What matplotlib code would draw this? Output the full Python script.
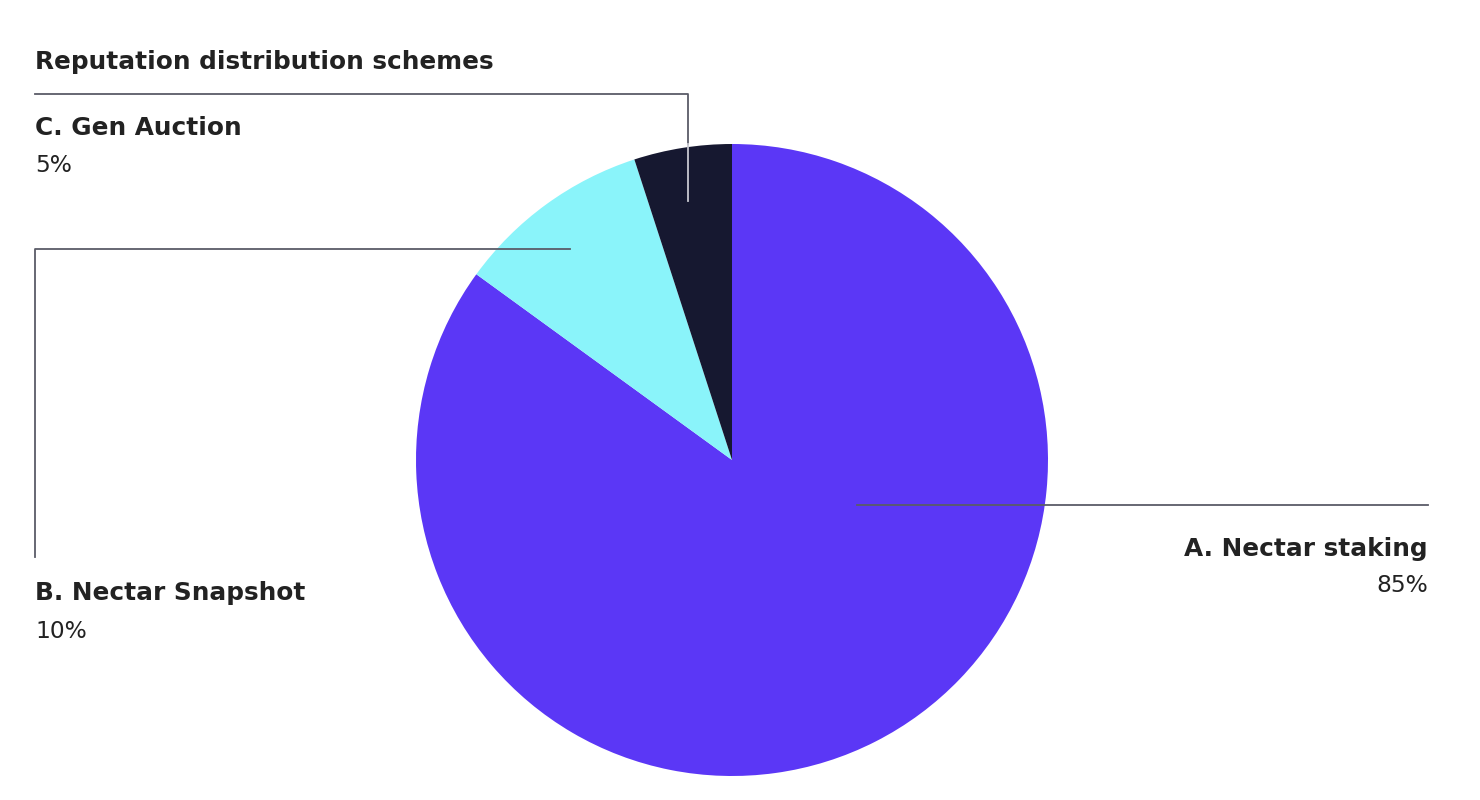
import matplotlib
matplotlib.use('Agg')
import matplotlib.pyplot as plt

# data
labels = ['A. Nectar staking', 'B. Nectar Snapshot', 'C. Gen Auction']
shares = [85, 10, 5]
colors = ['#5b37f6', '#8af4fa', '#161830']
title = 'Reputation distribution schemes'

W, H = 1480, 800
fig = plt.figure(figsize=(W / 100, H / 100), dpi=100)
ax = fig.add_axes([0, 0, 1, 1])


def Y(yp):
    # pixel row (top-down) -> data y (bottom-up)
    return H - yp


ax.pie(shares, colors=colors, startangle=90, counterclock=False,
       center=(732, Y(460)), radius=316, frame=True,
       wedgeprops=dict(linewidth=0))
ax.set_xlim(0, W)
ax.set_ylim(0, H)
ax.axis('off')

lc = '#5a5c68'
lw = 1.3
# leader lines
ax.plot([688, 688, 35], [Y(144), Y(94), Y(94)], color=lc, lw=lw)
ax.plot([688, 688], [Y(144), Y(201)], color='#c8c8d0', lw=lw)
ax.plot([570, 35, 35], [Y(249), Y(249), Y(557)], color=lc, lw=lw)
ax.plot([857, 1428], [Y(505), Y(505)], color=lc, lw=lw)

tc = '#222222'
fam = 'DejaVu Sans'
bs = 17.8
rs = 16.8
ax.text(35, Y(62), title, fontsize=bs, fontweight='bold', color=tc,
        family=fam, va='center', ha='left')
ax.text(35, Y(128), labels[2], fontsize=bs, fontweight='bold', color=tc,
        family=fam, va='center', ha='left')
ax.text(35, Y(165), f'{shares[2]}%', fontsize=rs, color=tc,
        family=fam, va='center', ha='left')
ax.text(35, Y(593), labels[1], fontsize=bs, fontweight='bold', color=tc,
        family=fam, va='center', ha='left')
ax.text(35, Y(631), f'{shares[1]}%', fontsize=rs, color=tc,
        family=fam, va='center', ha='left')
ax.text(1428, Y(549), labels[0], fontsize=bs, fontweight='bold', color=tc,
        family=fam, va='center', ha='right')
ax.text(1428, Y(586), f'{shares[0]}%', fontsize=rs, color=tc,
        family=fam, va='center', ha='right')

fig.savefig('out.png', dpi=100, facecolor='white')
